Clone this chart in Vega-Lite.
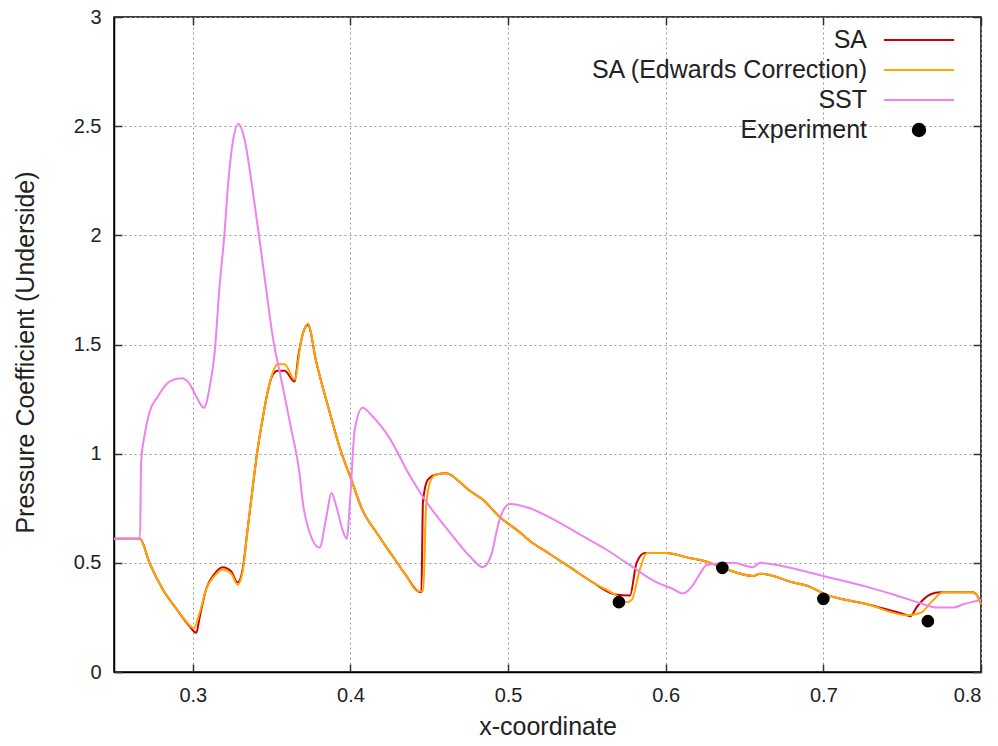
{
 "$schema": "https://vega.github.io/schema/vega-lite/v6.json",
 "width": 867,
 "height": 655,
 "autosize": {"type": "none"},
 "padding": {"left": 114, "top": 17, "right": 17, "bottom": 74},
 "background": "white",
 "config": {
  "view": {"stroke": "#000", "strokeWidth": 1.5},
  "font": "Liberation Sans",
  "axis": {
   "domainColor": "#000", "domainWidth": 1.5,
   "tickColor": "#333", "tickSize": -8, "tickWidth": 1.5,
   "labelFontSize": 20, "labelColor": "#222", "labelFont": "Liberation Sans",
   "titleFontSize": 25, "titleFontWeight": "normal", "titleColor": "#222", "titleFont": "Liberation Sans",
   "gridColor": "#9a9a9a", "gridDash": [2, 3], "gridWidth": 1
  }
 },
 "datasets": {
  "curves": [
   {"series":"SA","x":0.25,"cp":0.61},{"series":"SA","x":0.2665,"cp":0.61},{"series":"SA","x":0.2725,"cp":0.50},{"series":"SA","x":0.2808,"cp":0.38},{"series":"SA","x":0.2895,"cp":0.29},{"series":"SA","x":0.2979,"cp":0.21},{"series":"SA","x":0.3022,"cp":0.18},{"series":"SA","x":0.3043,"cp":0.25},{"series":"SA","x":0.3085,"cp":0.38},{"series":"SA","x":0.3138,"cp":0.45},{"series":"SA","x":0.3189,"cp":0.48},{"series":"SA","x":0.3244,"cp":0.46},{"series":"SA","x":0.3284,"cp":0.41},{"series":"SA","x":0.3316,"cp":0.47},{"series":"SA","x":0.3347,"cp":0.65},{"series":"SA","x":0.3379,"cp":0.84},{"series":"SA","x":0.3411,"cp":1.02},{"series":"SA","x":0.3443,"cp":1.16},{"series":"SA","x":0.3474,"cp":1.28},{"series":"SA","x":0.3506,"cp":1.36},{"series":"SA","x":0.3538,"cp":1.38},{"series":"SA","x":0.3582,"cp":1.38},{"series":"SA","x":0.3646,"cp":1.33},{"series":"SA","x":0.3670,"cp":1.45},{"series":"SA","x":0.3688,"cp":1.52},{"series":"SA","x":0.3730,"cp":1.59},{"series":"SA","x":0.3783,"cp":1.42},{"series":"SA","x":0.3868,"cp":1.19},{"series":"SA","x":0.3931,"cp":1.03},{"series":"SA","x":0.4006,"cp":0.88},{"series":"SA","x":0.4077,"cp":0.74},{"series":"SA","x":0.4164,"cp":0.64},{"series":"SA","x":0.4268,"cp":0.53},{"series":"SA","x":0.4355,"cp":0.44},{"series":"SA","x":0.4427,"cp":0.37},{"series":"SA","x":0.4450,"cp":0.365},{"series":"SA","x":0.4460,"cp":0.78},{"series":"SA","x":0.4490,"cp":0.88},{"series":"SA","x":0.4545,"cp":0.905},{"series":"SA","x":0.4609,"cp":0.91},{"series":"SA","x":0.4693,"cp":0.87},{"series":"SA","x":0.4757,"cp":0.83},{"series":"SA","x":0.4839,"cp":0.79},{"series":"SA","x":0.4947,"cp":0.71},{"series":"SA","x":0.5074,"cp":0.64},{"series":"SA","x":0.5138,"cp":0.60},{"series":"SA","x":0.5244,"cp":0.55},{"series":"SA","x":0.5392,"cp":0.48},{"series":"SA","x":0.5538,"cp":0.41},{"series":"SA","x":0.5678,"cp":0.355},{"series":"SA","x":0.5773,"cp":0.35},{"series":"SA","x":0.5815,"cp":0.50},{"series":"SA","x":0.5868,"cp":0.545},{"series":"SA","x":0.6006,"cp":0.545},{"series":"SA","x":0.6133,"cp":0.525},{"series":"SA","x":0.6281,"cp":0.50},{"series":"SA","x":0.6387,"cp":0.47},{"series":"SA","x":0.6554,"cp":0.44},{"series":"SA","x":0.6599,"cp":0.45},{"series":"SA","x":0.6808,"cp":0.41},{"series":"SA","x":0.6916,"cp":0.39},{"series":"SA","x":0.6998,"cp":0.36},{"series":"SA","x":0.7278,"cp":0.31},{"series":"SA","x":0.7531,"cp":0.26},{"series":"SA","x":0.7551,"cp":0.255},{"series":"SA","x":0.7595,"cp":0.30},{"series":"SA","x":0.7678,"cp":0.355},{"series":"SA","x":0.7741,"cp":0.365},{"series":"SA","x":0.7950,"cp":0.365},{"series":"SA","x":0.7995,"cp":0.32},{"series":"SA","x":0.80,"cp":0.31},
   {"series":"SA (Edwards Correction)","x":0.25,"cp":0.61},{"series":"SA (Edwards Correction)","x":0.2665,"cp":0.61},{"series":"SA (Edwards Correction)","x":0.2725,"cp":0.50},{"series":"SA (Edwards Correction)","x":0.2808,"cp":0.38},{"series":"SA (Edwards Correction)","x":0.2895,"cp":0.29},{"series":"SA (Edwards Correction)","x":0.2979,"cp":0.215},{"series":"SA (Edwards Correction)","x":0.3006,"cp":0.20},{"series":"SA (Edwards Correction)","x":0.3043,"cp":0.27},{"series":"SA (Edwards Correction)","x":0.3085,"cp":0.38},{"series":"SA (Edwards Correction)","x":0.3138,"cp":0.44},{"series":"SA (Edwards Correction)","x":0.3189,"cp":0.47},{"series":"SA (Edwards Correction)","x":0.3244,"cp":0.45},{"series":"SA (Edwards Correction)","x":0.3284,"cp":0.40},{"series":"SA (Edwards Correction)","x":0.3316,"cp":0.46},{"series":"SA (Edwards Correction)","x":0.3347,"cp":0.65},{"series":"SA (Edwards Correction)","x":0.3379,"cp":0.84},{"series":"SA (Edwards Correction)","x":0.3411,"cp":1.02},{"series":"SA (Edwards Correction)","x":0.3443,"cp":1.16},{"series":"SA (Edwards Correction)","x":0.3474,"cp":1.28},{"series":"SA (Edwards Correction)","x":0.3506,"cp":1.37},{"series":"SA (Edwards Correction)","x":0.3538,"cp":1.41},{"series":"SA (Edwards Correction)","x":0.3582,"cp":1.41},{"series":"SA (Edwards Correction)","x":0.3646,"cp":1.34},{"series":"SA (Edwards Correction)","x":0.3688,"cp":1.52},{"series":"SA (Edwards Correction)","x":0.3730,"cp":1.595},{"series":"SA (Edwards Correction)","x":0.3783,"cp":1.42},{"series":"SA (Edwards Correction)","x":0.3868,"cp":1.19},{"series":"SA (Edwards Correction)","x":0.3931,"cp":1.03},{"series":"SA (Edwards Correction)","x":0.4006,"cp":0.88},{"series":"SA (Edwards Correction)","x":0.4077,"cp":0.74},{"series":"SA (Edwards Correction)","x":0.4164,"cp":0.64},{"series":"SA (Edwards Correction)","x":0.4268,"cp":0.53},{"series":"SA (Edwards Correction)","x":0.4355,"cp":0.44},{"series":"SA (Edwards Correction)","x":0.4427,"cp":0.37},{"series":"SA (Edwards Correction)","x":0.4462,"cp":0.37},{"series":"SA (Edwards Correction)","x":0.4480,"cp":0.76},{"series":"SA (Edwards Correction)","x":0.4510,"cp":0.88},{"series":"SA (Edwards Correction)","x":0.4545,"cp":0.905},{"series":"SA (Edwards Correction)","x":0.4609,"cp":0.91},{"series":"SA (Edwards Correction)","x":0.4693,"cp":0.87},{"series":"SA (Edwards Correction)","x":0.4757,"cp":0.83},{"series":"SA (Edwards Correction)","x":0.4839,"cp":0.79},{"series":"SA (Edwards Correction)","x":0.4947,"cp":0.71},{"series":"SA (Edwards Correction)","x":0.5074,"cp":0.64},{"series":"SA (Edwards Correction)","x":0.5138,"cp":0.60},{"series":"SA (Edwards Correction)","x":0.5244,"cp":0.55},{"series":"SA (Edwards Correction)","x":0.5392,"cp":0.48},{"series":"SA (Edwards Correction)","x":0.5538,"cp":0.41},{"series":"SA (Edwards Correction)","x":0.5678,"cp":0.355},{"series":"SA (Edwards Correction)","x":0.5752,"cp":0.32},{"series":"SA (Edwards Correction)","x":0.5784,"cp":0.33},{"series":"SA (Edwards Correction)","x":0.5836,"cp":0.47},{"series":"SA (Edwards Correction)","x":0.5881,"cp":0.545},{"series":"SA (Edwards Correction)","x":0.6006,"cp":0.545},{"series":"SA (Edwards Correction)","x":0.6133,"cp":0.525},{"series":"SA (Edwards Correction)","x":0.6281,"cp":0.50},{"series":"SA (Edwards Correction)","x":0.6387,"cp":0.47},{"series":"SA (Edwards Correction)","x":0.6554,"cp":0.44},{"series":"SA (Edwards Correction)","x":0.6599,"cp":0.45},{"series":"SA (Edwards Correction)","x":0.6808,"cp":0.41},{"series":"SA (Edwards Correction)","x":0.6916,"cp":0.39},{"series":"SA (Edwards Correction)","x":0.6998,"cp":0.36},{"series":"SA (Edwards Correction)","x":0.7278,"cp":0.31},{"series":"SA (Edwards Correction)","x":0.7531,"cp":0.26},{"series":"SA (Edwards Correction)","x":0.7614,"cp":0.27},{"series":"SA (Edwards Correction)","x":0.7697,"cp":0.33},{"series":"SA (Edwards Correction)","x":0.7760,"cp":0.365},{"series":"SA (Edwards Correction)","x":0.7950,"cp":0.365},{"series":"SA (Edwards Correction)","x":0.7995,"cp":0.32},{"series":"SA (Edwards Correction)","x":0.80,"cp":0.31},
   {"series":"SST","x":0.25,"cp":0.61},{"series":"SST","x":0.2665,"cp":0.61},{"series":"SST","x":0.2672,"cp":0.96},{"series":"SST","x":0.2693,"cp":1.08},{"series":"SST","x":0.2725,"cp":1.19},{"series":"SST","x":0.2776,"cp":1.26},{"series":"SST","x":0.2852,"cp":1.33},{"series":"SST","x":0.2928,"cp":1.345},{"series":"SST","x":0.2979,"cp":1.32},{"series":"SST","x":0.3023,"cp":1.26},{"series":"SST","x":0.3070,"cp":1.21},{"series":"SST","x":0.3106,"cp":1.30},{"series":"SST","x":0.3138,"cp":1.46},{"series":"SST","x":0.3170,"cp":1.77},{"series":"SST","x":0.3201,"cp":2.01},{"series":"SST","x":0.3220,"cp":2.20},{"series":"SST","x":0.3252,"cp":2.42},{"series":"SST","x":0.3290,"cp":2.51},{"series":"SST","x":0.3328,"cp":2.44},{"series":"SST","x":0.3379,"cp":2.21},{"series":"SST","x":0.3423,"cp":1.98},{"series":"SST","x":0.3468,"cp":1.74},{"series":"SST","x":0.3506,"cp":1.54},{"series":"SST","x":0.3561,"cp":1.34},{"series":"SST","x":0.3625,"cp":1.11},{"series":"SST","x":0.3677,"cp":0.91},{"series":"SST","x":0.3697,"cp":0.78},{"series":"SST","x":0.3728,"cp":0.67},{"series":"SST","x":0.3804,"cp":0.57},{"series":"SST","x":0.3847,"cp":0.71},{"series":"SST","x":0.3879,"cp":0.82},{"series":"SST","x":0.3910,"cp":0.76},{"series":"SST","x":0.3950,"cp":0.65},{"series":"SST","x":0.3976,"cp":0.61},{"series":"SST","x":0.3999,"cp":0.80},{"series":"SST","x":0.4027,"cp":1.11},{"series":"SST","x":0.4077,"cp":1.21},{"series":"SST","x":0.4141,"cp":1.17},{"series":"SST","x":0.4249,"cp":1.07},{"series":"SST","x":0.4376,"cp":0.90},{"series":"SST","x":0.4471,"cp":0.79},{"series":"SST","x":0.4630,"cp":0.64},{"series":"SST","x":0.4757,"cp":0.53},{"series":"SST","x":0.4839,"cp":0.48},{"series":"SST","x":0.4895,"cp":0.54},{"series":"SST","x":0.4926,"cp":0.64},{"series":"SST","x":0.4947,"cp":0.70},{"series":"SST","x":0.5011,"cp":0.77},{"series":"SST","x":0.5138,"cp":0.75},{"series":"SST","x":0.5284,"cp":0.70},{"series":"SST","x":0.5455,"cp":0.63},{"series":"SST","x":0.5625,"cp":0.56},{"series":"SST","x":0.5792,"cp":0.48},{"series":"SST","x":0.5919,"cp":0.42},{"series":"SST","x":0.6046,"cp":0.38},{"series":"SST","x":0.6109,"cp":0.36},{"series":"SST","x":0.6164,"cp":0.39},{"series":"SST","x":0.6217,"cp":0.45},{"series":"SST","x":0.6260,"cp":0.49},{"series":"SST","x":0.6427,"cp":0.50},{"series":"SST","x":0.6554,"cp":0.48},{"series":"SST","x":0.6599,"cp":0.50},{"series":"SST","x":0.6706,"cp":0.49},{"series":"SST","x":0.6916,"cp":0.455},{"series":"SST","x":0.6998,"cp":0.44},{"series":"SST","x":0.7278,"cp":0.39},{"series":"SST","x":0.7443,"cp":0.355},{"series":"SST","x":0.7595,"cp":0.32},{"series":"SST","x":0.7722,"cp":0.295},{"series":"SST","x":0.7824,"cp":0.295},{"series":"SST","x":0.7887,"cp":0.31},{"series":"SST","x":0.80,"cp":0.33}
  ],
  "experiment": [
   {"series":"Experiment","x":0.5703,"cp":0.32},
   {"series":"Experiment","x":0.6359,"cp":0.477},
   {"series":"Experiment","x":0.70,"cp":0.335},
   {"series":"Experiment","x":0.7663,"cp":0.233}
  ]
 },
 "resolve": {"axis": {"x": "independent", "y": "independent"}},
 "layer": [
  {
   "data": {"name": "curves"},
   "mark": {"type": "line", "strokeWidth": 2, "clip": true, "interpolate": "monotone"},
   "encoding": {
    "x": {"field": "x", "type": "quantitative",
     "scale": {"domain": [0.25, 0.8], "nice": false, "zero": false},
     "axis": {"values": [0.3, 0.4, 0.5, 0.6, 0.7, 0.8], "format": "~g", "title": "x-coordinate",
      "grid": true, "labelPadding": 21, "titleY": 54, "titleBaseline": "middle"}},
    "y": {"field": "cp", "type": "quantitative",
     "scale": {"domain": [0, 3], "nice": false, "zero": false},
     "axis": {"values": [0, 0.5, 1, 1.5, 2, 2.5, 3], "format": "~g", "title": "Pressure Coefficient (Underside)",
      "grid": true, "labelPadding": 21, "titleX": -89, "titleY": 335, "titleBaseline": "middle", "titleAlign": "center", "titleAngle": 270}},
    "color": {"field": "series", "type": "nominal",
     "scale": {"domain": ["SA", "SA (Edwards Correction)", "SST", "Experiment"], "range": ["#cc0000", "#ffa500", "#ee82ee", "#000000"]},
     "legend": {"orient": "none", "legendX": 790.5, "legendY": 8.5, "title": null, "symbolSize": 729, "symbolStrokeWidth": 2,
      "labelFontSize": 25, "labelAlign": "right", "labelOffset": -66.5, "rowPadding": 2, "padding": 0, "labelLimit": 0,
      "labelColor": "#222", "labelFont": "Liberation Sans",
      "encode": {"symbols": {"update": {
       "shape": {"signal": "datum.value === 'Experiment' ? 'M-0.46,0A0.46,0.46,0,1,1,0.46,0A0.46,0.46,0,1,1,-0.46,0Z' : 'M-2.6,0H2.6'"},
       "fill": {"signal": "datum.value === 'Experiment' ? '#000' : 'transparent'"},
       "stroke": {"scale": "color", "field": "value"},
       "strokeWidth": {"value": 2}
      }}}}}
   }
  },
  {
   "data": {"name": "experiment"},
   "mark": {"type": "point", "filled": true, "size": 160, "opacity": 1},
   "encoding": {
    "x": {"field": "x", "type": "quantitative",
     "axis": {"orient": "top", "values": [0.3, 0.4, 0.5, 0.6, 0.7, 0.8], "labels": false, "title": null, "grid": false, "domain": false}},
    "y": {"field": "cp", "type": "quantitative",
     "axis": {"orient": "right", "values": [0, 0.5, 1, 1.5, 2, 2.5, 3], "labels": false, "title": null, "grid": false, "domain": false}},
    "color": {"field": "series", "type": "nominal"}
   }
  }
 ]
}
